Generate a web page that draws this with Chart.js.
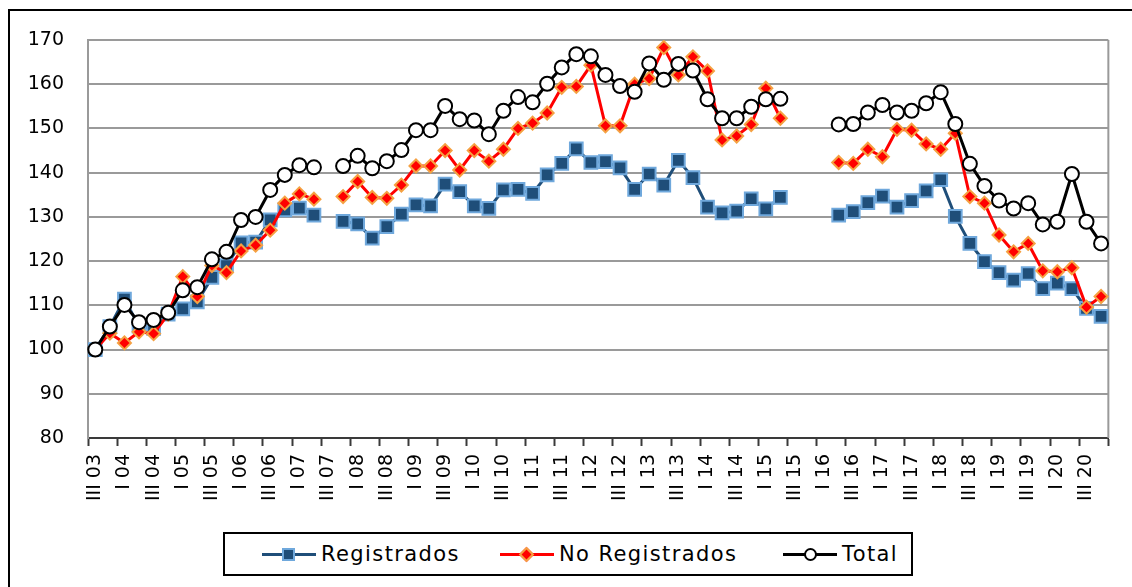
<!DOCTYPE html>
<html>
<head>
<meta charset="utf-8">
<script src="https://cdn.jsdelivr.net/npm/chart.js@4/dist/chart.umd.min.js"></script>
<style>
  html, body { margin: 0; padding: 0; background: #ffffff; }
  #wrap { position: relative; width: 1132px; height: 587px; overflow: hidden; background: #fff; }
  #frame { position: absolute; left: 8px; top: 9px; width: 1200px; height: 700px; border-top: 2px solid #000; border-left: 2px solid #000; box-sizing: border-box; }
  canvas { position: absolute; left: 0; top: 0; }
  #legend { position: absolute; left: 223px; top: 532px; width: 690px; height: 44px; border: 2px solid #000; box-sizing: border-box; background: #fff;
            font-family: "DejaVu Sans", sans-serif; font-size: 21px; color: #000; }
  .item { position: absolute; top: 0; height: 40px; display: flex; align-items: center; }
  .sym { position: relative; width: 54px; height: 40px; margin-right: 5px; }
  .sym .ln { position: absolute; left: 0; right: 0; top: 19px; height: 3px; }
  .sym .mk { position: absolute; }
  .txt { letter-spacing: 1.4px; }
</style>
</head>
<body>
<div id="wrap">
  <div id="frame"></div>
  <canvas id="c" width="1132" height="587"></canvas>
  <div id="legend"></div>
</div>
<script>
const quarters = [
  "III 03","IV 03","I 04","II 04","III 04","IV 04","I 05","II 05","III 05","IV 05",
  "I 06","II 06","III 06","IV 06","I 07","II 07","III 07","IV 07","I 08","II 08",
  "III 08","IV 08","I 09","II 09","III 09","IV 09","I 10","II 10","III 10","IV 10",
  "I 11","II 11","III 11","IV 11","I 12","II 12","III 12","IV 12","I 13","II 13",
  "III 13","IV 13","I 14","II 14","III 14","IV 14","I 15","II 15","III 15","IV 15",
  "I 16","II 16","III 16","IV 16","I 17","II 17","III 17","IV 17","I 18","II 18",
  "III 18","IV 18","I 19","II 19","III 19","IV 19","I 20","II 20","III 20","IV 20"
];

const registrados = [
  100, 105.2, 111.4, 105.3, 104.8, 108, 109.2, 110.8, 116.3, 119,
  124.1, 124.3, 129.3, 131.6, 132, 130.4, null, 129, 128.4, 125.2,
  127.8, 130.6, 132.7, 132.5, 137.4, 135.7, 132.5, 131.9, 136.1, 136.2,
  135.3, 139.5, 142.1, 145.4, 142.3, 142.5, 141.1, 136.2, 139.7, 137.2,
  142.8, 138.9, 132.2, 130.9, 131.3, 134.1, 131.8, 134.4, null, null,
  null, 130.4, 131.2, 133.2, 134.7, 132.2, 133.7, 135.9, 138.4, 130.1,
  124, 119.9, 117.4, 115.7, 117.2, 113.8, 115, 113.8, 109.3, 107.5
];

const noRegistrados = [
  100, 103.7, 101.5, 104, 103.6, 108, 116.5, 112, 119, 117.4,
  122.3, 123.6, 127, 133.1, 135.2, 134, null, 134.6, 138, 134.4,
  134.2, 137.2, 141.5, 141.5, 145, 140.6, 145, 142.6, 145.3, 150,
  151.2, 153.5, 159.3, 159.5, 164.3, 150.6, 150.6, 160, 161.3, 168.3,
  162.1, 166.2, 163, 147.4, 148.3, 150.9, 159.1, 152.3, null, null,
  null, 142.3, 142.1, 145.3, 143.6, 149.8, 149.6, 146.5, 145.3, 148.9,
  134.6, 133.1, 125.9, 122.1, 124, 117.8, 117.6, 118.5, 109.6, 112
];

const total = [
  100, 105.2, 110.1, 106.2, 106.7, 108.3, 113.4, 114.1, 120.4, 122.1,
  129.3, 130, 136.1, 139.5, 141.7, 141.2, null, 141.5, 143.8, 141,
  142.6, 145.1, 149.6, 149.6, 155.1, 152.1, 151.8, 148.7, 154, 157.1,
  155.9, 160.1, 163.8, 166.8, 166.3, 162.1, 159.6, 158.3, 164.7, 161,
  164.6, 163.1, 156.6, 152.3, 152.3, 154.9, 156.6, 156.7, null, null,
  null, 150.9, 151, 153.6, 155.3, 153.6, 154, 155.7, 158.2, 151,
  142, 137, 133.7, 131.9, 133.1, 128.3, 128.9, 139.7, 128.9, 124
];

const seriesNames = ["Registrados", "No Registrados", "Total"];
const yTicks = [80, 90, 100, 110, 120, 130, 140, 150, 160, 170];

const BLUE_LINE = "#1F4E79", BLUE_FILL = "#1F4E79", BLUE_EDGE = "#6FA8DC";
const RED_LINE = "#FF0000", RED_FILL = "#FF0000", RED_EDGE = "#F5A142";
const BLK = "#000000";
const GRID = "#9A9A9A";

const plotFrame = {
  id: "plotFrame",
  beforeDatasetsDraw(chart) {
    const a = chart.chartArea, ctx = chart.ctx;
    ctx.save();
    ctx.strokeStyle = GRID;
    ctx.lineWidth = 2;
    ctx.beginPath();
    ctx.moveTo(a.right, a.top);
    ctx.lineTo(a.right, a.bottom);
    ctx.stroke();
    ctx.restore();
  }
};

new Chart(document.getElementById("c"), {
  type: "line",
  data: {
    labels: quarters,
    datasets: [
      { label: seriesNames[0], data: registrados, order: 2,
        borderColor: BLUE_LINE, borderWidth: 3, pointStyle: "rect",
        pointRadius: 9, pointBackgroundColor: BLUE_FILL, pointBorderColor: BLUE_EDGE, pointBorderWidth: 2,
        tension: 0, spanGaps: false },
      { label: seriesNames[1], data: noRegistrados, order: 1,
        borderColor: RED_LINE, borderWidth: 3, pointStyle: "rectRot",
        pointRadius: 6.5, pointBackgroundColor: RED_FILL, pointBorderColor: RED_EDGE, pointBorderWidth: 2,
        tension: 0, spanGaps: false },
      { label: seriesNames[2], data: total, order: 0,
        borderColor: BLK, borderWidth: 3, pointStyle: "circle",
        pointRadius: 7, pointBackgroundColor: "#ffffff", pointBorderColor: BLK, pointBorderWidth: 2,
        tension: 0, spanGaps: false }
    ]
  },
  options: {
    responsive: false,
    animation: false,
    devicePixelRatio: 1,
    layout: { padding: { top: 40, right: 19, bottom: 49, left: 0 } },
    plugins: { legend: { display: false }, tooltip: { enabled: false } },
    scales: {
      x: {
        type: "category",
        offset: true,
        afterFit(s) { s.height = 100; },
        grid: {
          offset: true,
          drawOnChartArea: false,
          drawTicks: true,
          tickLength: 8,
          tickWidth: 2,
          tickColor: (ctx) => (ctx.index === undefined || ctx.index % 2 === 0) ? "#3a3a3a" : "rgba(0,0,0,0)"
        },
        border: { display: true, color: "#3a3a3a", width: 2 },
        ticks: {
          autoSkip: false,
          minRotation: 90,
          maxRotation: 90,
          padding: 8,
          color: "#000",
          font: { family: "DejaVu Sans", size: 19 },
          callback: (v, i) => (i % 2 === 0 ? quarters[i] : "")
        }
      },
      y: {
        min: yTicks[0],
        max: yTicks[yTicks.length - 1],
        afterFit(s) { s.width = 88; },
        afterBuildTicks(s) { s.ticks = yTicks.map(v => ({ value: v })); },
        grid: { color: GRID, lineWidth: 2, drawTicks: false },
        border: { display: true, color: GRID, width: 2 },
        ticks: {
          padding: 24,
          color: "#000",
          font: { family: "DejaVu Sans", size: 19 }
        }
      }
    }
  },
  plugins: [plotFrame]
});

// HTML legend (line + marker + text)
const legendEl = document.getElementById("legend");
const legendSpec = [
  { name: seriesNames[0], left: 37, line: BLUE_LINE, marker: `<div class="mk" style="left:20px;top:14px;width:9px;height:9px;background:${BLUE_FILL};border:2px solid ${BLUE_EDGE};"></div>` },
  { name: seriesNames[1], left: 275, line: RED_LINE, marker: `<div class="mk" style="left:21px;top:15px;width:7px;height:7px;background:${RED_FILL};border:2px solid ${RED_EDGE};transform:rotate(45deg);"></div>` },
  { name: seriesNames[2], left: 558, line: BLK, marker: `<div class="mk" style="left:21px;top:14px;width:9px;height:9px;background:#fff;border:2px solid ${BLK};border-radius:50%;"></div>` }
];
legendSpec.forEach(s => {
  const it = document.createElement("div");
  it.className = "item";
  it.style.left = s.left + "px";
  it.innerHTML = `<div class="sym"><div class="ln" style="background:${s.line}"></div>${s.marker}</div><span class="txt">${s.name}</span>`;
  legendEl.appendChild(it);
});
</script>
</body>
</html>
